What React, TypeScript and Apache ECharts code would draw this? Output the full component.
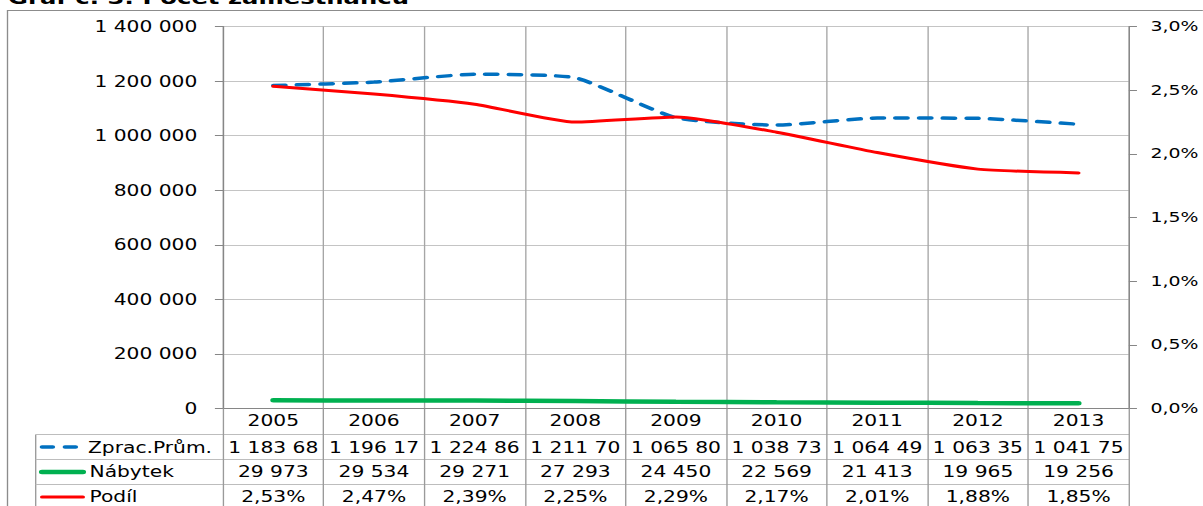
import React, { useEffect, useRef } from 'react';
import * as echarts from 'echarts';

const title = 'Graf č. 3: Počet zaměstnanců';
const years = ['2005', '2006', '2007', '2008', '2009', '2010', '2011', '2012', '2013'];
const seriesNames = ['Zprac.Prům.', 'Nábytek', 'Podíl'];
const zpracPrum = [1183680, 1196170, 1224860, 1211700, 1065800, 1038730, 1064490, 1063350, 1041750];
const nabytek = [29973, 29534, 29271, 27293, 24450, 22569, 21413, 19965, 19256];
const podil = [2.53, 2.47, 2.39, 2.25, 2.29, 2.17, 2.01, 1.88, 1.85];

const S = 1.35;
const W = 1203;
const H = 506;
const IW = W / S;
const X = (v: number) => v / S;
const FONT = "'DejaVu Sans', Verdana, sans-serif";

const fmtNum = (v: number) => String(Math.round(v)).replace(/\B(?=(\d{3})+(?!\d))/g, ' ');
const fmtPct = (v: number) => v.toFixed(2).replace('.', ',') + '%';
const fmtAxisPct = (v: number) => v.toFixed(1).replace('.', ',') + '%';

const BLUE = '#0070C0';
const GREEN = '#00B050';
const RED = '#FF0000';

export default function App() {
  const ref = useRef<HTMLDivElement>(null);
  useEffect(() => {
    document.body.style.margin = '0';
    const chart = echarts.init(ref.current!, null, { renderer: 'svg' });
    const gridLeft = X(223);
    const gridRight = IW - X(1129);
    chart.setOption({
      animation: false,
      textStyle: { fontFamily: FONT },
      grid: { left: gridLeft, right: gridRight, top: 26.5, bottom: H - 408.5, outerBoundsMode: 'none' },
      xAxis: {
        type: 'category',
        data: years,
        boundaryGap: true,
        axisLine: { lineStyle: { color: '#868686', width: 1 } },
        axisTick: { show: true, length: 120, lineStyle: { color: '#9a9a9a' } },
        splitLine: { show: true, lineStyle: { color: '#a6a6a6' } },
        axisLabel: { fontSize: 15, color: '#000', fontFamily: FONT, margin: 5 },
      },
      yAxis: [
        {
          type: 'value',
          min: 0,
          max: 1400000,
          interval: 200000,
          axisLine: { show: true, lineStyle: { color: '#868686' } },
          axisTick: { show: true, length: 6, lineStyle: { color: '#868686' } },
          axisLabel: { fontSize: 15, color: '#000', fontFamily: FONT, margin: 19, formatter: (v: number) => fmtNum(v) },
          splitLine: { show: true, lineStyle: { color: '#c4c4c4' } },
        },
        {
          type: 'value',
          position: 'right',
          min: 0,
          max: 3,
          interval: 0.5,
          axisLine: { show: true, lineStyle: { color: '#868686' } },
          axisTick: { show: true, length: 6, lineStyle: { color: '#868686' } },
          axisLabel: { fontSize: 14, color: '#000', fontFamily: FONT, margin: 16, formatter: (v: number) => fmtAxisPct(v) },
          splitLine: { show: false },
        },
      ],
      series: [
        {
          name: seriesNames[0],
          type: 'line',
          yAxisIndex: 0,
          data: zpracPrum,
          smooth: 0.18,
          showSymbol: false,
          lineStyle: { color: BLUE, width: 3.5, type: [9, 8.5], cap: 'round' },
        },
        {
          name: seriesNames[1],
          type: 'line',
          yAxisIndex: 0,
          data: nabytek,
          smooth: 0.18,
          showSymbol: false,
          lineStyle: { color: GREEN, width: 4.5, cap: 'round' },
        },
        {
          name: seriesNames[2],
          type: 'line',
          yAxisIndex: 1,
          data: podil,
          smooth: 0.18,
          showSymbol: false,
          lineStyle: { color: RED, width: 3, cap: 'round' },
        },
      ],
    });

    const c0 = chart.convertToPixel({ xAxisIndex: 0 }, 0) as number;
    const c1 = chart.convertToPixel({ xAxisIndex: 0 }, 1) as number;
    const colW = c1 - c0;
    const rowY = [447.5, 472, 497];
    const rows: string[][] = [
      zpracPrum.map(fmtNum),
      nabytek.map(fmtNum),
      podil.map(fmtPct),
    ];
    const tableRight = X(1129);
    const tableLeft = X(35.7);
    const elements: any[] = [
      {
        type: 'rect',
        shape: { x: X(7.5), y: 10.5, width: IW + 20, height: 600 },
        style: { fill: 'none', stroke: '#8c8c8c', lineWidth: 1 },
        silent: true,
      },
      {
        type: 'text',
        x: X(8),
        y: -2,
        style: { text: title, font: `bold 18px ${FONT}`, fill: '#000', align: 'left', verticalAlign: 'middle' },
      },
      {
        type: 'line',
        shape: { x1: tableLeft, y1: 520, x2: tableLeft, y2: 434.5 },
        style: { stroke: '#9a9a9a', lineWidth: 1 },
      },
    ];
    [434.5, 459.5, 484.5].forEach((y) => {
      elements.push({
        type: 'line',
        shape: { x1: tableLeft, y1: y, x2: tableRight, y2: y },
        style: { stroke: '#bdbdbd', lineWidth: 1 },
      });
    });
    // legend keys
    elements.push({
      type: 'line',
      shape: { x1: X(42), y1: rowY[0] - 0.5, x2: X(78), y2: rowY[0] - 0.5 },
      style: { stroke: BLUE, lineWidth: 3.5, lineDash: [8, 9], lineCap: 'round' },
    });
    elements.push({
      type: 'line',
      shape: { x1: X(42), y1: rowY[1], x2: X(83), y2: rowY[1] },
      style: { stroke: GREEN, lineWidth: 4.5, lineCap: 'round' },
    });
    elements.push({
      type: 'line',
      shape: { x1: X(42), y1: rowY[2], x2: X(83), y2: rowY[2] },
      style: { stroke: RED, lineWidth: 3, lineCap: 'round' },
    });
    const labelX = [X(88), X(89.5), X(89.5)];
    seriesNames.forEach((n, r) => {
      elements.push({
        type: 'text',
        x: labelX[r],
        y: rowY[r],
        style: { text: n, font: `15px ${FONT}`, fill: '#000', align: 'left', verticalAlign: 'middle' },
      });
    });
    rows.forEach((vals, r) => {
      vals.forEach((t, i) => {
        const cx = chart.convertToPixel({ xAxisIndex: 0 }, i) as number;
        elements.push({
          type: 'text',
          x: cx,
          y: rowY[r],
          style: {
            text: t,
            font: `15px ${FONT}`,
            fill: '#000',
            align: 'center',
            verticalAlign: 'middle',
            width: colW - 2,
            overflow: 'truncate',
            ellipsis: '',
          },
        });
      });
    });
    chart.setOption({ graphic: { elements } });
    return () => chart.dispose();
  }, []);
  return (
    <div style={{ width: W, height: H, overflow: 'hidden', position: 'relative', background: '#fff' }}>
      <div
        ref={ref}
        style={{ width: IW, height: H, transform: `scaleX(${S})`, transformOrigin: '0 0' }}
      />
    </div>
  );
}
